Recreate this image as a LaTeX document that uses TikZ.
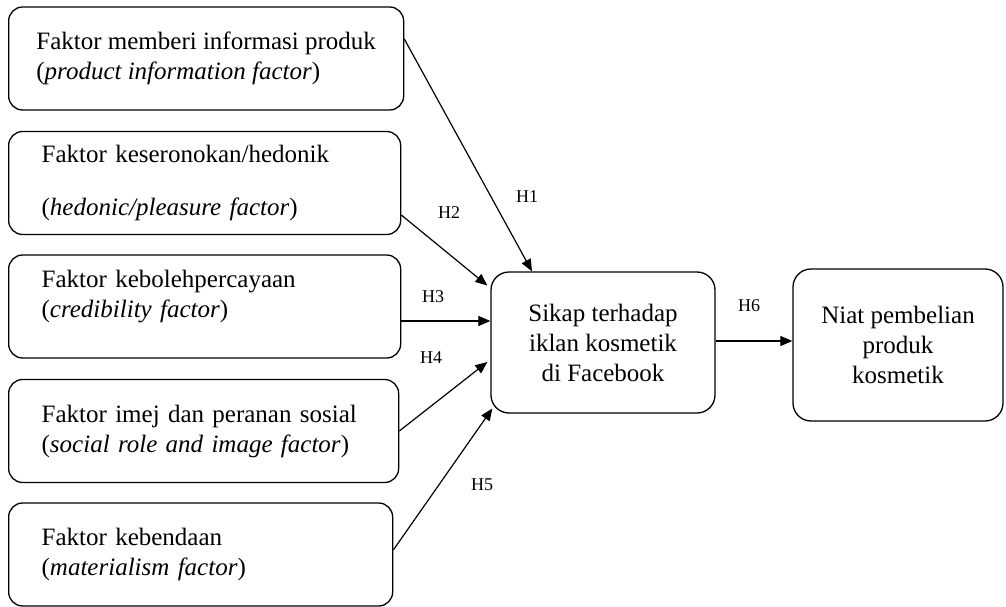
\documentclass[tikz,border=0pt]{standalone}
\usepackage{fontspec}
\setmainfont{Liberation Serif}
\usetikzlibrary{arrows.meta}
\tikzset{faktor/.style={draw, rounded corners=14pt, align=left, anchor=west, minimum height=103pt, inner xsep=#1, inner ysep=0pt},
%default side gap for the text
faktor/.default={33pt},
kotak/.style={draw, rounded corners=18pt, align=center, inner sep=0pt},
hubung/.style={-{Triangle[length=12pt,width=10pt]}, line width=1.2pt},
hlabel/.style={font=\fontsize{18}{20}\selectfont, inner sep=0pt}}

\begin{document}
\begin{tikzpicture}[x=1pt,y=-1pt,line width=1.3pt,font=\fontsize{25}{30}\selectfont]
\useasboundingbox (0,0) rectangle (1006,607);
% faktor
\node[faktor=0pt, minimum width=395pt] (f1) at (8,58.5) {Faktor memberi informasi produk\\(\textit{product information factor})};
\node[faktor, text width=326pt] (f2) at (8,183) {Faktor keseronokan/hedonik\\[23pt](\textit{hedonic/pleasure factor})};
\node[faktor, text width=326pt] (f3) at (8,306.5) {Faktor kebolehpercayaan\\(\textit{credibility factor})\\[-5pt]\mbox{}};
\node[faktor, text width=324pt] (f4) at (8,431) {Faktor imej dan peranan sosial\\(\textit{social role and image factor})};
\node[faktor, text width=318pt] (f5) at (8,554.5) {Faktor kebendaan\\(\textit{materialism factor})};

% sikap dan niat
\node[kotak, minimum width=224pt, minimum height=141pt] (sikap) at (603,342.5) {Sikap terhadap\\iklan kosmetik\\di Facebook};
\node[kotak, minimum width=210pt, minimum height=152pt] (niat) at (898,345) {Niat pembelian\\produk\\kosmetik};

%hipotesis
\draw[hubung] ([yshift=19.5pt]f1.east) -- ([xshift=-71pt]sikap.north);
\draw[hubung] ([yshift=-32pt]f2.east) -- ([xshift=-3pt,yshift=57pt]sikap.west);
\draw[hubung] ([yshift=-14.5pt]f3.east) -- ([yshift=21.5pt]sikap.west);
\draw[hubung] (f4.east) -- ([xshift=-3pt,yshift=-19.5pt]sikap.west);
\draw[hubung] ([yshift=4.5pt]f5.east) -- ([xshift=2pt,yshift=-66pt]sikap.west);
\draw[hubung] ([yshift=1.5pt]sikap.east) -- ([yshift=4pt]niat.west);

\node[hlabel] (h1) at (527,197) {H1};
\node[hlabel] (h2) at (449,213) {H2};
\node[hlabel] (h3) at (433,297) {H3};
\node[hlabel] (h4) at (431,358) {H4};
\node[hlabel] (h5) at (482,485) {H5};
\node[hlabel] (h6) at (749,306) {H6};
\end{tikzpicture}
\end{document}
